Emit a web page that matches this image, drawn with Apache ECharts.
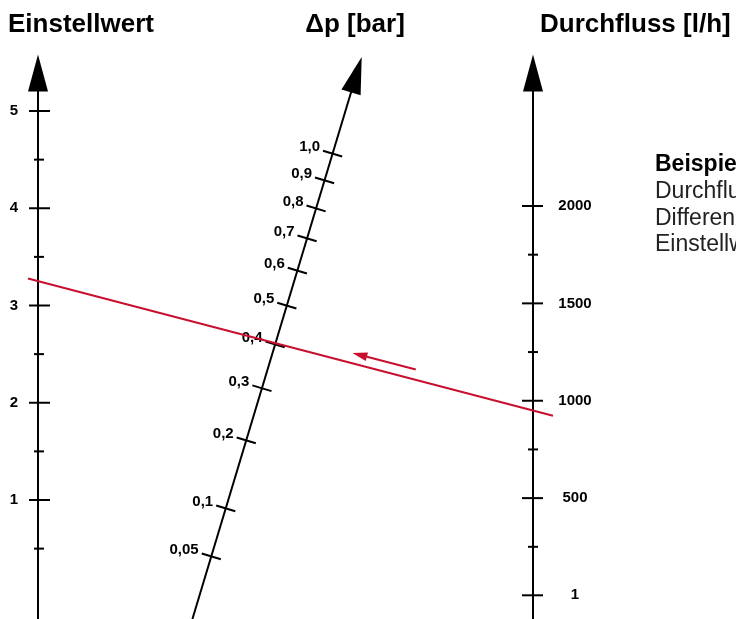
<!DOCTYPE html>
<html><head><meta charset="utf-8">
<script src="https://cdn.jsdelivr.net/npm/echarts@6/dist/echarts.min.js"></script>
<style>html,body{margin:0;padding:0;background:#fff}#c{width:736px;height:619px}</style>
</head><body><div id="c"></div>
<script>
// ---- data ----
const EW_MAJOR = [1, 2, 3, 4, 5];
const EW_MINOR = [0.5, 1.5, 2.5, 3.5, 4.5];
const Q_MAJOR = [1, 500, 1000, 1500, 2000];
const Q_MINOR = [250, 750, 1250, 1750];
const DP_TICKS = [0.05, 0.1, 0.2, 0.3, 0.4, 0.5, 0.6, 0.7, 0.8, 0.9, 1.0];
const DP_LABELS = ['0,05', '0,1', '0,2', '0,3', '0,4', '0,5', '0,6', '0,7', '0,8', '0,9', '1,0'];
const AXIS_TITLES = ['Einstellwert', 'Δp [bar]', 'Durchfluss [l/h]'];
const EXAMPLE_FLOW = 950;
const EXAMPLE_DP = 0.4;
const EXAMPLE_SETTING = 3.25;
const EXAMPLE_LINES = ['Beispiel:', 'Durchfluss: 950 l/h', 'Differenzdruck: 0,4 bar', 'Einstellwert: 3,25'];

// ---- scale ranges (shared grid) ----
const E_MIN = -0.2237, E_MAX = 5.3908;
const Q_MIN = -120.7, Q_MAX = 2682.9;
function qToE(q) { return E_MIN + (q - Q_MIN) / (Q_MAX - Q_MIN) * (E_MAX - E_MIN); }
// slanted Δp scale: position along the line is linear in sqrt(Δp)
const SL = { x0: 0.2795, xk: 0.3156, e0: -0.772, ek: 5.333 };
function slant(s) { return [SL.x0 + SL.xk * s, SL.e0 + SL.ek * s]; }
const S_BOTTOM = (E_MIN - SL.e0) / SL.ek;
const S_TIP = 1.1864;

const RED = '#c8102e';
const FONT = '"Liberation Sans", Arial, Helvetica, sans-serif';

function vTicks(xv, yi, values, l, r) {
  return {
    type: 'custom', xAxisIndex: 0, yAxisIndex: yi, clip: false, silent: true, z: 3,
    data: values.map(v => [xv, v]),
    renderItem(params, api) {
      const p = api.coord([api.value(0), api.value(1)]);
      return { type: 'line', shape: { x1: p[0] - l, y1: p[1], x2: p[0] + r, y2: p[1] },
        style: { stroke: '#000', lineWidth: 2 } };
    }
  };
}

const redAt = x => EXAMPLE_SETTING + (qToE(EXAMPLE_FLOW) - EXAMPLE_SETTING) * x;

const chart = echarts.init(document.getElementById('c'));
chart.setOption({
  animation: false,
  backgroundColor: '#fff',
  grid: { left: 38, right: 203, top: 73, bottom: 0, outerBoundsMode: 'none', containLabel: false },
  xAxis: { type: 'value', min: 0, max: 1, show: false },
  yAxis: [
    { type: 'value', min: E_MIN, max: E_MAX, position: 'left',
      axisLine: { show: true, onZero: false, symbol: ['none', 'triangle'], symbolSize: [20, 37], lineStyle: { color: '#000', width: 2 } },
      axisTick: { show: false }, splitLine: { show: false },
      axisLabel: { customValues: EW_MAJOR, formatter: v => String(v), margin: 24, align: 'center', color: '#000', fontWeight: 'bold', fontSize: 15, fontFamily: FONT } },
    { type: 'value', min: Q_MIN, max: Q_MAX, position: 'right',
      axisLine: { show: true, onZero: false, symbol: ['none', 'triangle'], symbolSize: [20, 37], lineStyle: { color: '#000', width: 2 } },
      axisTick: { show: false }, splitLine: { show: false },
      axisLabel: { customValues: Q_MAJOR, formatter: v => String(v), margin: 42, align: 'center', color: '#000', fontWeight: 'bold', fontSize: 15, fontFamily: FONT } }
  ],
  graphic: [
    { type: 'text', x: 8, y: 25, style: { text: AXIS_TITLES[0], font: 'bold 26px ' + FONT, fill: '#000', verticalAlign: 'middle' } },
    { type: 'text', x: 355, y: 25, style: { text: AXIS_TITLES[1], font: 'bold 26px ' + FONT, fill: '#000', align: 'center', verticalAlign: 'middle' } },
    { type: 'text', x: 540, y: 25, style: { text: AXIS_TITLES[2], font: 'bold 26px ' + FONT, fill: '#000', verticalAlign: 'middle' } }
  ].concat(EXAMPLE_LINES.map((t, i) => ({
    type: 'text', x: 655, y: 165 + i * 26.7,
    style: { text: t, font: (i === 0 ? 'bold ' : '') + '23px ' + FONT, fill: i === 0 ? '#000' : '#222', verticalAlign: 'middle' }
  }))),
  series: [
    vTicks(0, 0, EW_MAJOR, 9, 12),
    vTicks(0, 0, EW_MINOR, 4, 6),
    vTicks(1, 1, Q_MAJOR, 11, 10),
    vTicks(1, 1, Q_MINOR, 5, 5),
    { // slanted Δp axis line + arrow
      type: 'custom', clip: false, silent: true, z: 3, data: [[0, 0]],
      renderItem(params, api) {
        const pB = api.coord(slant(S_BOTTOM)), pT = api.coord(slant(S_TIP));
        const dx = pT[0] - pB[0], dy = pT[1] - pB[1], L = Math.hypot(dx, dy);
        const u = [dx / L, dy / L], n = [-u[1], u[0]];
        const b = [pT[0] - u[0] * 37, pT[1] - u[1] * 37];
        return { type: 'group', children: [
          { type: 'line', shape: { x1: pB[0], y1: pB[1], x2: b[0] + u[0] * 2, y2: b[1] + u[1] * 2 }, style: { stroke: '#000', lineWidth: 2 } },
          { type: 'polygon', shape: { points: [pT, [b[0] + n[0] * 10, b[1] + n[1] * 10], [b[0] - n[0] * 10, b[1] - n[1] * 10]] }, style: { fill: '#000' } }
        ] };
      }
    },
    { // Δp ticks + labels
      type: 'custom', clip: false, silent: true, z: 3,
      data: DP_TICKS.map(v => slant(Math.sqrt(v))),
      renderItem(params, api) {
        const p = api.coord([api.value(0), api.value(1)]);
        const n = [0.9575, 0.2884];
        const a = [p[0] - n[0] * 10, p[1] - n[1] * 10];
        return { type: 'group', children: [
          { type: 'line', shape: { x1: a[0], y1: a[1], x2: p[0] + n[0] * 10, y2: p[1] + n[1] * 10 }, style: { stroke: '#000', lineWidth: 2 } },
          { type: 'text', x: a[0] - 3, y: a[1] - 4, style: { text: DP_LABELS[params.dataIndex], font: 'bold 15px ' + FONT, fill: '#000', align: 'right', verticalAlign: 'middle' } }
        ] };
      }
    },
    { // example line through setting, Δp and flow
      type: 'custom', clip: false, silent: true, z: 5, data: [[-0.0202, 1.0404]],
      renderItem(params, api) {
        const x0 = api.value(0), x1 = api.value(1);
        const a = api.coord([x0, redAt(x0)]), b = api.coord([x1, redAt(x1)]);
        return { type: 'line', shape: { x1: a[0], y1: a[1], x2: b[0], y2: b[1] }, style: { stroke: RED, lineWidth: 2 } };
      }
    },
    { // direction arrow
      type: 'custom', clip: false, silent: true, z: 5, data: [[0.758, 0.630]],
      renderItem(params, api) {
        const xa = api.value(0), xb = api.value(1);
        const p1 = api.coord([xa, redAt(xa)]), p0 = api.coord([xb, redAt(xb)]);
        const dx = p0[0] - p1[0], dy = p0[1] - p1[1], L = Math.hypot(dx, dy);
        const u = [dx / L, dy / L];
        const up = [-u[1] * 10, u[0] * 10];
        const s = [p1[0] + up[0], p1[1] + up[1]], t = [p0[0] + up[0], p0[1] + up[1]];
        const nn = [-u[1], u[0]];
        const hb = [t[0] - u[0] * 15, t[1] - u[1] * 15];
        return { type: 'group', children: [
          { type: 'line', shape: { x1: s[0], y1: s[1], x2: hb[0], y2: hb[1] }, style: { stroke: RED, lineWidth: 2 } },
          { type: 'polygon', shape: { points: [t, [hb[0] + nn[0] * 4.5, hb[1] + nn[1] * 4.5], [hb[0] - nn[0] * 4.5, hb[1] - nn[1] * 4.5]] }, style: { fill: RED } }
        ] };
      }
    }
  ]
});
</script></body></html>
